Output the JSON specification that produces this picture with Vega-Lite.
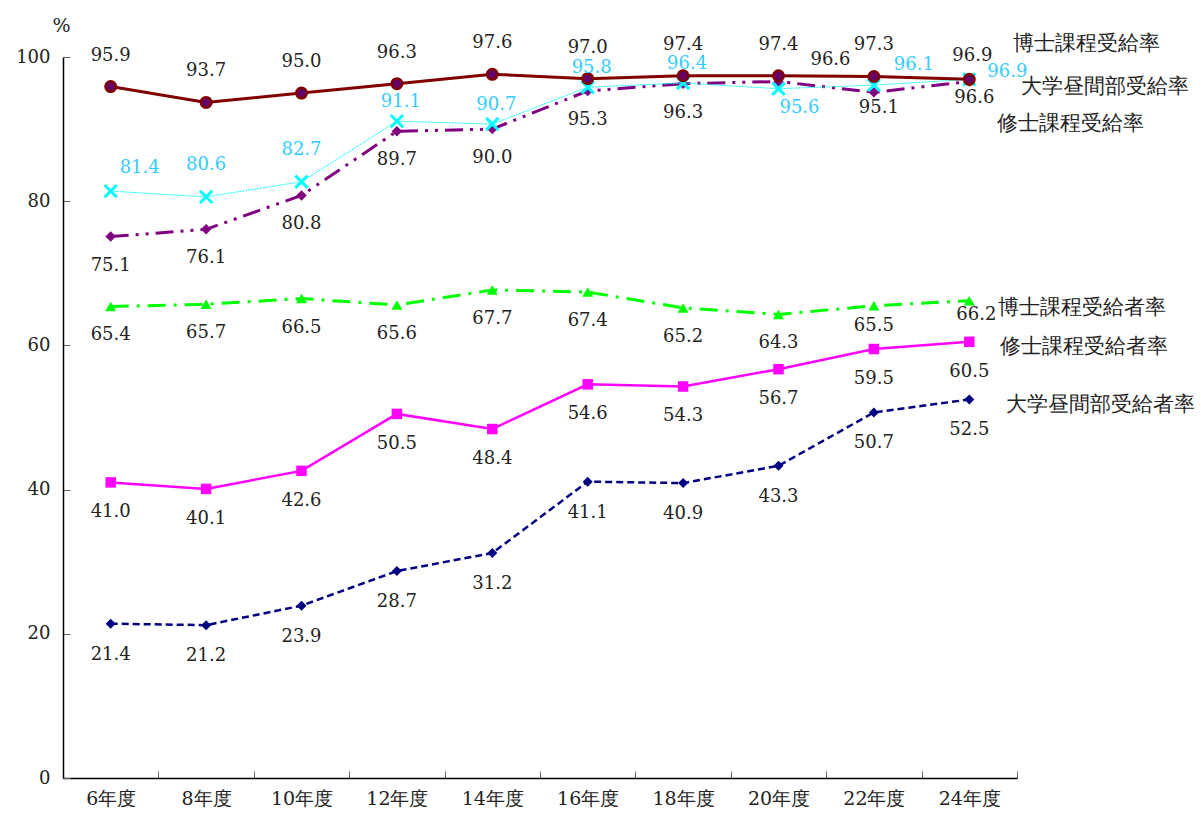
{
  "$schema": "https://vega.github.io/schema/vega-lite/v6.json",
  "width": 954,
  "height": 721,
  "autosize": {"type": "none"},
  "padding": {"left": 63, "top": 57, "right": 184, "bottom": 40},
  "background": "white",
  "config": {
    "view": {"stroke": null},
    "font": "DejaVu Serif",
    "text": {"font": "DejaVu Serif", "fontSize": 18, "color": "#222222", "baseline": "middle"}
  },
  "data": {
    "values": [
      {"year": "6年度", "s": "博士課程受給率", "v": 95.9},
      {"year": "8年度", "s": "博士課程受給率", "v": 93.7},
      {"year": "10年度", "s": "博士課程受給率", "v": 95.0},
      {"year": "12年度", "s": "博士課程受給率", "v": 96.3},
      {"year": "14年度", "s": "博士課程受給率", "v": 97.6},
      {"year": "16年度", "s": "博士課程受給率", "v": 97.0},
      {"year": "18年度", "s": "博士課程受給率", "v": 97.4},
      {"year": "20年度", "s": "博士課程受給率", "v": 97.4},
      {"year": "22年度", "s": "博士課程受給率", "v": 97.3},
      {"year": "24年度", "s": "博士課程受給率", "v": 96.9},
      {"year": "6年度", "s": "大学昼間部受給率", "v": 81.4},
      {"year": "8年度", "s": "大学昼間部受給率", "v": 80.6},
      {"year": "10年度", "s": "大学昼間部受給率", "v": 82.7},
      {"year": "12年度", "s": "大学昼間部受給率", "v": 91.1},
      {"year": "14年度", "s": "大学昼間部受給率", "v": 90.7},
      {"year": "16年度", "s": "大学昼間部受給率", "v": 95.8},
      {"year": "18年度", "s": "大学昼間部受給率", "v": 96.4},
      {"year": "20年度", "s": "大学昼間部受給率", "v": 95.6},
      {"year": "22年度", "s": "大学昼間部受給率", "v": 96.1},
      {"year": "24年度", "s": "大学昼間部受給率", "v": 96.9},
      {"year": "6年度", "s": "修士課程受給率", "v": 75.1},
      {"year": "8年度", "s": "修士課程受給率", "v": 76.1},
      {"year": "10年度", "s": "修士課程受給率", "v": 80.8},
      {"year": "12年度", "s": "修士課程受給率", "v": 89.7},
      {"year": "14年度", "s": "修士課程受給率", "v": 90.0},
      {"year": "16年度", "s": "修士課程受給率", "v": 95.3},
      {"year": "18年度", "s": "修士課程受給率", "v": 96.3},
      {"year": "20年度", "s": "修士課程受給率", "v": 96.6},
      {"year": "22年度", "s": "修士課程受給率", "v": 95.1},
      {"year": "24年度", "s": "修士課程受給率", "v": 96.6},
      {"year": "6年度", "s": "博士課程受給者率", "v": 65.4},
      {"year": "8年度", "s": "博士課程受給者率", "v": 65.7},
      {"year": "10年度", "s": "博士課程受給者率", "v": 66.5},
      {"year": "12年度", "s": "博士課程受給者率", "v": 65.6},
      {"year": "14年度", "s": "博士課程受給者率", "v": 67.7},
      {"year": "16年度", "s": "博士課程受給者率", "v": 67.4},
      {"year": "18年度", "s": "博士課程受給者率", "v": 65.2},
      {"year": "20年度", "s": "博士課程受給者率", "v": 64.3},
      {"year": "22年度", "s": "博士課程受給者率", "v": 65.5},
      {"year": "24年度", "s": "博士課程受給者率", "v": 66.2},
      {"year": "6年度", "s": "修士課程受給者率", "v": 41.0},
      {"year": "8年度", "s": "修士課程受給者率", "v": 40.1},
      {"year": "10年度", "s": "修士課程受給者率", "v": 42.6},
      {"year": "12年度", "s": "修士課程受給者率", "v": 50.5},
      {"year": "14年度", "s": "修士課程受給者率", "v": 48.4},
      {"year": "16年度", "s": "修士課程受給者率", "v": 54.6},
      {"year": "18年度", "s": "修士課程受給者率", "v": 54.3},
      {"year": "20年度", "s": "修士課程受給者率", "v": 56.7},
      {"year": "22年度", "s": "修士課程受給者率", "v": 59.5},
      {"year": "24年度", "s": "修士課程受給者率", "v": 60.5},
      {"year": "6年度", "s": "大学昼間部受給者率", "v": 21.4},
      {"year": "8年度", "s": "大学昼間部受給者率", "v": 21.2},
      {"year": "10年度", "s": "大学昼間部受給者率", "v": 23.9},
      {"year": "12年度", "s": "大学昼間部受給者率", "v": 28.7},
      {"year": "14年度", "s": "大学昼間部受給者率", "v": 31.2},
      {"year": "16年度", "s": "大学昼間部受給者率", "v": 41.1},
      {"year": "18年度", "s": "大学昼間部受給者率", "v": 40.9},
      {"year": "20年度", "s": "大学昼間部受給者率", "v": 43.3},
      {"year": "22年度", "s": "大学昼間部受給者率", "v": 50.7},
      {"year": "24年度", "s": "大学昼間部受給者率", "v": 52.5}
    ]
  },
  "encoding": {
    "x": {
      "field": "year", "type": "ordinal", "sort": null,
      "scale": {"type": "band", "paddingInner": 0, "paddingOuter": 0},
      "axis": {
        "title": null, "labelAngle": 0, "tickBand": "extent", "tickSize": -7,
        "labelPadding": 18, "labelFontSize": 19, "labelColor": "#222222",
        "labelFont": "DejaVu Serif",
        "domainColor": "#000000", "domainWidth": 1.5, "tickColor": "#666666", "grid": false
      }
    },
    "y": {
      "field": "v", "type": "quantitative",
      "scale": {"domain": [0, 100], "nice": false},
      "axis": {
        "values": [0, 20, 40, 60, 80, 100], "title": "%", "titleAngle": 0,
        "titleX": -2, "titleY": -32, "titleAlign": "center", "titleBaseline": "middle",
        "titleFontSize": 19, "titleFontWeight": "normal", "titleColor": "#222222",
        "titleFont": "DejaVu Serif",
        "tickSize": -7, "labelPadding": 20, "labelFontSize": 18, "labelColor": "#222222",
        "labelFont": "DejaVu Serif",
        "grid": false, "domainColor": "#000000", "domainWidth": 1.5, "tickColor": "#666666"
      }
    }
  },
  "layer": [
    {"transform": [{"filter": "datum.s == '大学昼間部受給者率'"}],
     "mark": {"type": "line", "color": "#000080", "strokeWidth": 2.5, "strokeDash": [7, 4]}},
    {"transform": [{"filter": "datum.s == '大学昼間部受給者率'"}],
     "mark": {"type": "point", "shape": "diamond", "filled": true, "color": "#000080", "size": 100, "opacity": 1}},
    {"transform": [{"filter": "datum.s == '修士課程受給者率'"}],
     "mark": {"type": "line", "color": "#FF00FF", "strokeWidth": 2.5}},
    {"transform": [{"filter": "datum.s == '修士課程受給者率'"}],
     "mark": {"type": "point", "shape": "square", "filled": true, "color": "#FF00FF", "size": 110, "opacity": 1}},
    {"transform": [{"filter": "datum.s == '博士課程受給者率'"}],
     "mark": {"type": "line", "color": "#00FF00", "strokeWidth": 3, "strokeDash": [18, 8, 3, 8]}},
    {"transform": [{"filter": "datum.s == '博士課程受給者率'"}],
     "mark": {"type": "point", "shape": "triangle-up", "filled": true, "color": "#00FF00", "size": 120, "opacity": 1}},
    {"transform": [{"filter": "datum.s == '修士課程受給率'"}],
     "mark": {"type": "line", "color": "#800080", "strokeWidth": 3, "strokeDash": [18, 7, 3, 7, 3, 7]}},
    {"transform": [{"filter": "datum.s == '修士課程受給率'"}],
     "mark": {"type": "point", "shape": "diamond", "filled": true, "color": "#800080", "size": 110, "opacity": 1}},
    {"transform": [{"filter": "datum.s == '大学昼間部受給率'"}],
     "mark": {"type": "line", "color": "#00FFFF", "strokeWidth": 1, "strokeDash": [2, 1]}},
    {"transform": [{"filter": "datum.s == '大学昼間部受給率'"}],
     "mark": {"type": "point", "shape": "M-1,-1L1,1M-1,1L1,-1", "filled": false, "color": "#00FFFF", "strokeWidth": 3, "size": 150, "opacity": 1}},
    {"transform": [{"filter": "datum.s == '博士課程受給率'"}],
     "mark": {"type": "line", "color": "#800000", "strokeWidth": 3}},
    {"transform": [{"filter": "datum.s == '博士課程受給率'"}],
     "mark": {"type": "point", "shape": "circle", "filled": true, "fill": "#660066", "stroke": "#800000", "strokeWidth": 2.5, "size": 110, "opacity": 1}},

    {"transform": [{"filter": "datum.s == '博士課程受給率' && datum.year != '24年度'"}],
     "mark": {"type": "text", "dy": -31},
     "encoding": {"text": {"field": "v", "type": "quantitative", "format": ".1f"}}},
    {"transform": [{"filter": "datum.s == '博士課程受給率' && datum.year == '24年度'"}],
     "mark": {"type": "text", "dy": -23, "dx": 3},
     "encoding": {"text": {"field": "v", "type": "quantitative", "format": ".1f"}}},

    {"transform": [{"filter": "datum.s == '大学昼間部受給率' && datum.year == '6年度'"}],
     "mark": {"type": "text", "dy": -23, "dx": 29, "color": "#33CCFF"},
     "encoding": {"text": {"field": "v", "type": "quantitative", "format": ".1f"}}},
    {"transform": [{"filter": "datum.s == '大学昼間部受給率' && (datum.year == '8年度' || datum.year == '10年度')"}],
     "mark": {"type": "text", "dy": -32, "color": "#33CCFF"},
     "encoding": {"text": {"field": "v", "type": "quantitative", "format": ".1f"}}},
    {"transform": [{"filter": "datum.s == '大学昼間部受給率' && indexof(['12年度','14年度','16年度','18年度'], datum.year) >= 0"}],
     "mark": {"type": "text", "dy": -19, "dx": 4, "color": "#33CCFF"},
     "encoding": {"text": {"field": "v", "type": "quantitative", "format": ".1f"}}},
    {"transform": [{"filter": "datum.s == '大学昼間部受給率' && datum.year == '20年度'"}],
     "mark": {"type": "text", "dy": 19, "dx": 21, "color": "#33CCFF"},
     "encoding": {"text": {"field": "v", "type": "quantitative", "format": ".1f"}}},
    {"transform": [{"filter": "datum.s == '大学昼間部受給率' && datum.year == '22年度'"}],
     "mark": {"type": "text", "dy": -20, "dx": 40, "color": "#33CCFF"},
     "encoding": {"text": {"field": "v", "type": "quantitative", "format": ".1f"}}},
    {"transform": [{"filter": "datum.s == '大学昼間部受給率' && datum.year == '24年度'"}],
     "mark": {"type": "text", "dy": -7, "dx": 38, "color": "#33CCFF"},
     "encoding": {"text": {"field": "v", "type": "quantitative", "format": ".1f"}}},

    {"transform": [{"filter": "datum.s == '修士課程受給率' && indexof(['20年度','22年度','24年度'], datum.year) < 0"}],
     "mark": {"type": "text", "dy": 29},
     "encoding": {"text": {"field": "v", "type": "quantitative", "format": ".1f"}}},
    {"transform": [{"filter": "datum.s == '修士課程受給率' && datum.year == '20年度'"}],
     "mark": {"type": "text", "dy": -22, "dx": 52},
     "encoding": {"text": {"field": "v", "type": "quantitative", "format": ".1f"}}},
    {"transform": [{"filter": "datum.s == '修士課程受給率' && (datum.year == '22年度' || datum.year == '24年度')"}],
     "mark": {"type": "text", "dy": 16, "dx": 5},
     "encoding": {"text": {"field": "v", "type": "quantitative", "format": ".1f"}}},

    {"transform": [{"filter": "datum.s == '博士課程受給者率' && datum.year != '22年度' && datum.year != '24年度'"}],
     "mark": {"type": "text", "dy": 29},
     "encoding": {"text": {"field": "v", "type": "quantitative", "format": ".1f"}}},
    {"transform": [{"filter": "datum.s == '博士課程受給者率' && datum.year == '22年度'"}],
     "mark": {"type": "text", "dy": 20},
     "encoding": {"text": {"field": "v", "type": "quantitative", "format": ".1f"}}},
    {"transform": [{"filter": "datum.s == '博士課程受給者率' && datum.year == '24年度'"}],
     "mark": {"type": "text", "dy": 14, "dx": 7},
     "encoding": {"text": {"field": "v", "type": "quantitative", "format": ".1f"}}},

    {"transform": [{"filter": "datum.s == '修士課程受給者率'"}],
     "mark": {"type": "text", "dy": 30},
     "encoding": {"text": {"field": "v", "type": "quantitative", "format": ".1f"}}},
    {"transform": [{"filter": "datum.s == '大学昼間部受給者率'"}],
     "mark": {"type": "text", "dy": 31},
     "encoding": {"text": {"field": "v", "type": "quantitative", "format": ".1f"}}},

    {"transform": [{"filter": "datum.s == '博士課程受給率' && datum.year == '24年度'"}],
     "mark": {"type": "text", "align": "left", "dx": 44, "dy": -35, "fontSize": 21},
     "encoding": {"text": {"field": "s", "type": "nominal"}}},
    {"transform": [{"filter": "datum.s == '大学昼間部受給率' && datum.year == '24年度'"}],
     "mark": {"type": "text", "align": "left", "dx": 52, "dy": 8, "fontSize": 21},
     "encoding": {"text": {"field": "s", "type": "nominal"}}},
    {"transform": [{"filter": "datum.s == '修士課程受給率' && datum.year == '24年度'"}],
     "mark": {"type": "text", "align": "left", "dx": 28, "dy": 42, "fontSize": 21},
     "encoding": {"text": {"field": "s", "type": "nominal"}}},
    {"transform": [{"filter": "datum.s == '博士課程受給者率' && datum.year == '24年度'"}],
     "mark": {"type": "text", "align": "left", "dx": 29, "dy": 7, "fontSize": 21},
     "encoding": {"text": {"field": "s", "type": "nominal"}}},
    {"transform": [{"filter": "datum.s == '修士課程受給者率' && datum.year == '24年度'"}],
     "mark": {"type": "text", "align": "left", "dx": 31, "dy": 5, "fontSize": 21},
     "encoding": {"text": {"field": "s", "type": "nominal"}}},
    {"transform": [{"filter": "datum.s == '大学昼間部受給者率' && datum.year == '24年度'"}],
     "mark": {"type": "text", "align": "left", "dx": 37, "dy": 6, "fontSize": 21},
     "encoding": {"text": {"field": "s", "type": "nominal"}}}
  ]
}
